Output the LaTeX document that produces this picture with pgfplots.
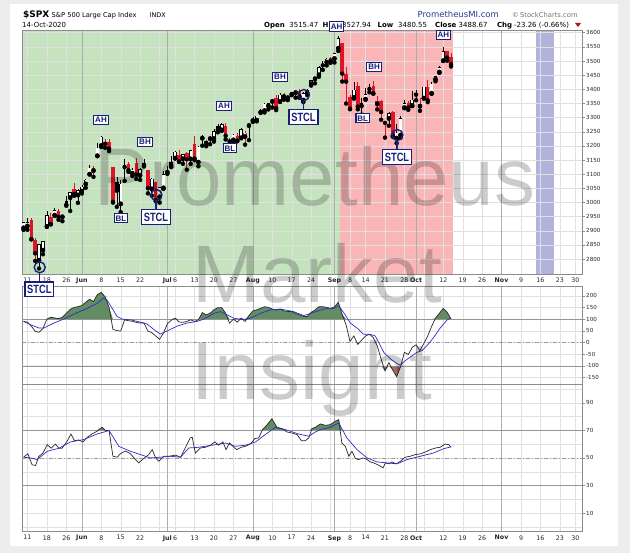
\documentclass[border=0pt]{standalone}
\usepackage{fontspec}
\setmainfont{Liberation Sans}
\newfontfamily\dv{DejaVu Sans}
\usepackage{graphicx}
\usepackage{pgfplots}
\pgfplotsset{compat=1.18}
\usepackage{pgfplotstable}

\definecolor{navy}{RGB}{25,30,120}
\definecolor{bggreen}{RGB}{198,227,192}
\definecolor{bgred}{RGB}{250,182,182}
\definecolor{bgblue}{RGB}{178,178,218}
\definecolor{candred}{RGB}{222,20,40}
\definecolor{fillgreen}{RGB}{98,140,98}
\definecolor{fillred}{RGB}{168,104,104}
\definecolor{lineblue}{RGB}{45,45,200}
\definecolor{lineblack}{RGB}{40,40,40}
\definecolor{pmblue}{RGB}{40,55,150}

% i = trading day index (0 = 11 May 2020); k: 0 up/black hollow, 1 black filled, 2 red hollow, 3 red filled
\pgfplotstableread{
i o h l c k
-1 2908.8 2932.2 2902.9 2929.8 0
0 2915.5 2944.3 2903.4 2930.2 0
1 2939.5 2945.8 2869.6 2870.1 3
2 2865.9 2874.1 2793.2 2820.0 3
3 2794.5 2852.8 2766.6 2852.5 0
4 2829.9 2865.0 2816.8 2863.7 0
5 2913.9 2968.1 2913.9 2953.9 0
6 2948.6 2964.2 2922.4 2922.9 3
7 2953.6 2980.3 2953.6 2971.6 0
8 2969.9 2978.5 2938.6 2948.5 3
9 2948.0 2956.8 2933.6 2955.5 0
10 3004.1 3021.7 2988.2 2991.8 1
11 3015.7 3036.3 2969.8 3036.1 0
12 3046.6 3068.7 3023.4 3029.7 3
13 3025.2 3049.2 2998.6 3044.3 0
14 3038.8 3062.2 3031.5 3055.7 0
15 3064.2 3081.1 3051.6 3080.8 0
16 3098.9 3130.9 3098.9 3122.9 0
17 3111.6 3128.9 3090.4 3112.4 2
18 3163.8 3211.7 3163.8 3193.9 0
19 3199.9 3233.1 3196.0 3232.4 0
20 3213.3 3222.7 3193.1 3207.2 3
21 3213.4 3223.3 3181.5 3190.1 3
22 3123.5 3123.5 2999.5 3002.1 3
23 3071.0 3088.4 2984.5 3041.3 1
24 2993.8 3079.8 2965.7 3066.6 0
25 3131.0 3153.5 3076.1 3124.7 1
26 3136.1 3141.2 3108.0 3113.5 3
27 3101.6 3120.0 3093.5 3115.3 0
28 3140.3 3155.5 3083.1 3097.7 3
29 3094.4 3120.9 3079.4 3117.9 0
30 3138.7 3154.9 3127.1 3131.3 1
31 3114.4 3115.0 3032.1 3050.3 3
32 3046.6 3086.3 3024.0 3083.8 0
33 3073.2 3073.7 3004.6 3009.1 3
34 3018.6 3053.9 2999.7 3053.2 0
35 3050.2 3111.5 3047.8 3100.3 0
36 3105.9 3128.4 3101.2 3115.9 0
37 3143.6 3165.8 3124.5 3130.0 1
38 3155.3 3182.6 3155.3 3179.7 0
39 3166.4 3184.2 3142.9 3145.3 3
40 3153.1 3171.8 3136.5 3169.9 0
41 3176.2 3179.8 3115.7 3152.1 3
42 3152.5 3186.8 3136.2 3185.0 0
43 3205.1 3235.3 3149.4 3155.2 3
44 3141.1 3200.9 3127.7 3197.5 0
45 3226.0 3238.3 3200.8 3226.6 0
46 3208.4 3220.4 3198.6 3215.6 2
47 3224.2 3233.5 3205.7 3224.7 0
48 3224.3 3258.6 3215.2 3251.8 0
49 3268.5 3277.3 3247.8 3257.3 1
50 3254.9 3279.3 3253.1 3276.0 0
51 3271.6 3279.9 3222.7 3235.7 3
52 3218.6 3227.3 3200.1 3215.6 3
53 3219.8 3241.4 3214.3 3239.4 0
54 3234.3 3243.7 3216.2 3218.4 3
55 3227.2 3264.7 3227.2 3258.4 0
56 3231.8 3250.9 3204.1 3246.2 2
57 3270.5 3272.2 3220.3 3271.1 0
58 3288.3 3302.7 3284.5 3294.6 0
59 3289.9 3306.8 3286.7 3306.5 0
60 3317.4 3330.8 3317.4 3327.8 0
61 3323.2 3351.0 3318.1 3349.2 0
62 3340.1 3352.5 3328.7 3351.3 0
63 3356.0 3363.3 3335.4 3360.5 0
64 3370.3 3381.0 3326.4 3333.7 3
65 3355.5 3387.9 3355.5 3380.4 0
66 3372.9 3387.2 3363.4 3373.4 2
67 3368.7 3378.5 3361.6 3372.9 2
68 3380.9 3387.6 3379.2 3382.0 0
69 3387.0 3395.1 3370.2 3389.8 0
70 3392.5 3399.5 3369.7 3374.9 3
71 3360.5 3390.8 3354.7 3385.5 0
72 3386.0 3400.0 3379.3 3397.2 0
73 3418.1 3432.1 3413.1 3431.3 0
74 3435.9 3444.2 3421.0 3443.6 0
75 3450.0 3481.1 3444.2 3478.7 0
76 3485.1 3501.4 3468.4 3484.6 1
77 3494.7 3509.2 3484.3 3508.0 0
78 3509.7 3514.8 3493.3 3500.3 3
79 3507.4 3528.0 3494.6 3526.7 0
80 3543.8 3588.1 3535.2 3580.8 0
81 3564.7 3564.9 3427.4 3455.1 3
82 3453.6 3479.2 3349.6 3427.0 3
83 3371.9 3380.0 3329.3 3331.8 3
84 3369.8 3424.8 3366.8 3399.0 0
85 3412.6 3425.6 3329.3 3339.2 3
86 3352.7 3369.0 3310.5 3341.0 1
87 3363.6 3402.9 3363.6 3383.5 0
88 3407.7 3419.5 3389.2 3401.2 1
89 3411.2 3428.9 3384.5 3385.5 3
90 3346.9 3375.2 3328.8 3357.0 2
91 3357.4 3362.3 3292.4 3319.5 3
92 3285.6 3285.6 3229.1 3281.1 3
93 3295.8 3320.3 3271.0 3315.6 0
94 3320.1 3323.4 3232.6 3236.9 3
95 3226.1 3278.7 3209.5 3246.6 0
96 3236.7 3306.9 3228.4 3298.5 0
97 3333.9 3360.7 3332.9 3351.6 0
98 3350.9 3357.9 3327.5 3335.5 3
99 3341.2 3393.6 3340.5 3363.0 0
100 3385.9 3397.2 3361.4 3380.8 1
101 3338.9 3369.1 3323.7 3348.4 2
102 3367.3 3409.6 3367.3 3408.6 0
103 3408.7 3431.6 3354.5 3361.0 3
104 3384.6 3426.3 3384.6 3419.4 0
105 3434.3 3447.3 3428.2 3446.8 0
106 3459.7 3482.3 3458.1 3477.1 0
107 3500.0 3549.9 3500.0 3534.2 0
108 3534.0 3534.0 3500.9 3511.9 3
109 3515.5 3527.9 3480.6 3488.7 3
}\spx

\pgfplotstableread{
i v
-1 90
0 87
1 70
2 48
3 44
4 60
5 100
6 108
7 105
8 102
9 108
10 125
11 142
12 150
13 153
14 158
15 172
16 185
17 175
18 205
19 214
20 195
21 150
22 56
23 51
24 49
25 97
26 93
27 91
28 86
29 83
30 83
31 49
32 42
33 28
34 14
35 40
36 80
37 95
38 104
39 88
40 86
41 90
42 97
43 90
44 97
45 128
46 118
47 125
48 140
49 149
50 149
51 125
52 83
53 100
54 87
55 104
56 90
57 115
58 135
59 140
60 146
61 153
62 150
63 143
64 139
65 143
66 135
67 133
68 132
69 125
70 118
71 112
72 111
73 129
74 139
75 153
76 153
77 150
78 146
79 152
80 172
81 120
82 75
83 5
84 28
85 -8
86 10
87 28
88 35
89 21
90 -14
91 -70
92 -121
93 -86
94 -118
95 -146
96 -104
97 -42
98 -51
99 -21
100 -10
101 -35
102 -4
103 28
104 69
105 104
106 125
107 146
108 129
109 101
}\ccik

\pgfplotstableread{
i v
-1 90
0.8 76
2.9 62
4.2 62
6.8 83
9.3 100
11.9 121
15.4 146
17.9 167
19.5 190
20.5 181
21.8 146
23.1 111
24.4 100
26.5 97
29.1 87
30.8 79
32.5 56
34.2 36
35.9 49
38.5 70
41 83
43.6 90
45.4 100
48 125
49.7 132
51.4 118
53.1 104
55.7 97
57.4 104
60 125
62.5 139
65.1 143
68.5 132
71.1 115
73.7 129
76.2 143
78.8 146
80.1 157
81.5 125
83.1 83
84.8 62
86.5 35
88.2 35
89.5 28
90.4 0
91.7 -42
93.4 -70
95.1 -90
96 -97
96.8 -83
98.5 -62
100.2 -42
101.5 -35
102.8 -14
104.5 21
106.2 62
108 97
109 104
}\ccib

\pgfplotstableread{
i v
-1 50.5
0.1 53
1.2 45
2.1 44.5
2.9 51
4 53.6
5.1 59.6
6.1 57
7.2 60
8.1 57
8.9 57
10.2 62
11.2 67.3
12.1 62.5
13.2 63
14.3 61.6
15.4 65
16.6 67.3
17.9 69.3
19.2 72.2
20.1 69.8
21 69.8
22 51.2
23.1 50.5
23.9 53
25.2 55
26.5 53
27.8 48.8
28.6 46.4
29.9 49.5
31.2 52.4
32.1 56
33 50
33.8 47.6
35.1 51.2
36.4 51.2
38.1 52
39.4 50.5
40.6 57.2
41.9 64.5
42.4 65
43.2 53.6
44.5 57.2
45.8 57.7
47.1 59.2
48.2 61.6
49.2 59.2
50.3 61.6
51.1 56
52 60.8
53.1 57.7
53.9 56
55 57.7
56.1 58.4
57.4 60.1
58.5 64
59.5 64.5
60.5 70.5
61.7 74.1
62.9 78.4
64.2 72.2
65.5 71.2
66.8 68.8
68.1 68
69.4 66.9
70.5 62.5
71.5 62.5
72.4 64.5
73.2 71.2
74.1 72.2
75.4 74.6
76.7 73.6
77.9 74.1
79.2 76.5
80.1 77.7
80.9 60.8
81.8 58.4
82.7 51.2
83.5 54.8
84.4 49.5
85.2 48.8
86.5 50
87.4 48.8
88.2 47.1
89.1 46.4
90 45.2
90.8 44
91.5 42.8
92.1 46.4
93 45.7
93.8 47.1
94.9 45.7
96 47.6
97.2 50.5
98.5 51.2
99.8 52.4
101.1 52.9
102.4 54.3
103.7 56
105 57.2
106.2 57.7
107.5 60.1
108.4 59.6
109 57.7
}\rsik

\pgfplotstableread{
i v
-1 50.5
0.8 50
2.5 48.8
5.1 54.8
8.1 57
11.1 61.6
14.5 63.3
17.9 67.3
21 69.8
22.2 64.5
23.5 58.4
26.5 54.8
29.1 52.4
31.6 50
34.2 50.5
36.8 51.2
39.4 50.5
41.5 57.2
44.1 57.7
48.4 59.6
51 60.8
53.5 58.4
56.1 59.2
58.7 61.6
61.2 66.9
63.8 72.2
66.4 70.5
69.8 67.3
72.4 65.7
74.1 68.8
75.4 70.5
77.9 72.2
80.1 75.3
82.2 64.5
84.8 56
87.4 50
90 47.1
92.5 46.4
95.1 45.7
97.7 48.8
101.1 51.2
104.5 53.6
107.1 56.7
109 58
}\rsib

\newcommand{\candlewick}[2]{%
\addplot[only marks, mark=none, error bars/.cd, y dir=plus, y explicit, error mark=none,
  error bar style={draw=#1, line width=0.65bp}]
  table[x=i, y=l, y error plus expr={\thisrow{h}-\thisrow{l}},
  restrict expr to domain={\thisrow{k}}{#2}] {\spx};}
\newcommand{\candlebody}[2]{%
\addplot[only marks, mark=none, error bars/.cd, y dir=plus, y explicit, error mark=none,
  error bar style={draw=#1, line width=3.5bp}]
  table[x=i, y expr={min(\thisrow{o},\thisrow{c})},
  y error plus expr={max(abs(\thisrow{c}-\thisrow{o}),2.5)},
  restrict expr to domain={\thisrow{k}}{#2}] {\spx};}
\newcommand{\candlehole}[1]{%
\addplot[only marks, mark=none, error bars/.cd, y dir=plus, y explicit, error mark=none,
  error bar style={draw=white, line width=2.3bp}]
  table[x=i, y expr={min(\thisrow{o},\thisrow{c})+2.2},
  y error plus expr={max(abs(\thisrow{c}-\thisrow{o})-4.4,0.01)},
  restrict expr to domain={\thisrow{k}}{#1}] {\spx};}

\pgfplotsset{
 panel/.style={
  scale only axis, width=560bp, xmin=-1.4, xmax=142.7,
  axis line style={draw=black!45, line width=0.5bp},
  xtick={0,5,10,14,19,24,29,36,38,43,48,53,58,63,68,73,79,83,87,92,97,100,107,112,117,122,127,132,137,141},
  minor xtick={34,78,102},
  extra x ticks={14,36,58,79,100,122},
  extra x tick labels={},
  extra x tick style={grid=major, major grid style={draw=black!32, line width=0.6bp}, tick style={draw=none}},
  grid=both,
  major grid style={draw=black!12, line width=0.4bp},
  minor grid style={draw=black!12, line width=0.4bp},
  xtick style={draw=none},
  ytick pos=right, yticklabel pos=right,
  ytick style={draw=black!45, line width=0.4bp},
  tick align=outside, major tick length=2.5bp, minor tick length=0pt,
  yticklabel style={font=\dv\fontsize{5.6}{6}\selectfont, text=black!85, inner sep=0pt, xshift=1.5bp, anchor=west},
  xticklabel style={font=\dv\fontsize{6.3}{7}\selectfont, text=black!85, inner sep=0pt, yshift=-1bp},
  /pgf/number format/assume math mode=true,
  /pgf/number format/1000 sep={},
  set layers,
 },
 datelabels/.style={
  xticklabels={11,18,26,\textbf{Jun},8,15,22,\textbf{Jul},6,13,20,27,\textbf{Aug},10,17,24,\textbf{Sep},8,14,21,28,\textbf{Oct},12,19,26,\textbf{Nov},9,16,23,30},
 },
 nolabels/.style={
  xticklabels={,,,,,,,,,,,,,,,,,,,,,,,,,,,,,},
 },
}

\tikzset{
 ann/.style={draw=navy, fill=white, line width=1.1bp, text=navy, font=\bfseries\fontsize{8}{8}\selectfont,
   inner xsep=1.4bp, inner ysep=1.7bp, text height=5.8bp, text depth=0bp},
 stcl/.style={draw=navy, fill=white, line width=1.4bp, text=navy, font=\bfseries\fontsize{12}{12}\selectfont,
   inner xsep=2.2bp, inner ysep=3bp, text height=8.6bp, text depth=0bp},
}

\begin{document}
\begin{tikzpicture}
\begin{scope}[x=1bp,y=-1bp]
 \path[use as bounding box] (0,0) rectangle (630,553);
 \fill[black!7, even odd rule] (0,0) rectangle (630,553) (10,4) rectangle (618,546);
\end{scope}

% ---------------- price panel ----------------
\begin{axis}[panel, datelabels, at={(22bp,-30bp)}, anchor=north west, height=244bp,
  ymin=2747, ymax=3609.5, ytick={2800,2850,...,3600}]
 \addplot[on layer=axis background, fill=bggreen, draw=none] coordinates {(-1.4,2747) (80.5,2747) (80.5,3609.5) (-1.4,3609.5)} -- cycle;
 \addplot[on layer=axis background, fill=bgred, draw=none] coordinates {(80.5,2747) (109.6,2747) (109.6,3609.5) (80.5,3609.5)} -- cycle;
 \addplot[on layer=axis background, fill=bgblue, draw=none] coordinates {(130.8,2747) (135.6,2747) (135.6,3609.5) (130.8,3609.5)} -- cycle;
 \candlewick{black}{-0.5:1.5}
 \candlewick{candred}{1.5:3.5}
 \candlebody{black}{-0.5:1.5}
 \candlebody{candred}{1.5:3.5}
 \candlehole{-0.5:0.5}
 \candlehole{1.5:2.5}
 \addplot[only marks, mark=o, mark size=5.5bp, mark options={draw=navy, line width=1.4bp}]
   coordinates {(3.16,2770.7) (33.19,3026.3) (71.13,3379.8) (95.19,3238.4)};
\end{axis}

% ---------------- CCI panel ----------------
\begin{axis}[panel, nolabels, at={(22bp,-286bp)}, anchor=north west, height=98bp,
  ymin=-177.3, ymax=241.5, ytick={-150,-100,...,200}]
 \addplot[fill=fillgreen, draw=none] table[x=i, y expr={max(\thisrow{v},100)}] {\ccik} -- (axis cs:109,100) -- (axis cs:-1,100) -- cycle;
 \addplot[fill=fillred, draw=none] table[x=i, y expr={min(\thisrow{v},-100)}] {\ccik} -- (axis cs:109,-100) -- (axis cs:-1,-100) -- cycle;
 \addplot[draw=black!42, line width=0.8bp] coordinates {(-1.4,100) (142.7,100)};
 \addplot[draw=black!42, line width=0.8bp] coordinates {(-1.4,-100) (142.7,-100)};
 \addplot[draw=black!40, line width=0.5bp, dash pattern=on 4bp off 2bp on 1bp off 2bp] coordinates {(-1.4,0) (142.7,0)};
 \addplot[draw=lineblack, line width=0.7bp] table[x=i, y=v] {\ccik};
 \addplot[draw=lineblue, line width=0.7bp] table[x=i, y=v] {\ccib};
\end{axis}

% ---------------- RSI panel ----------------
\begin{axis}[panel, datelabels, at={(22bp,-384bp)}, anchor=north west, height=147.7bp,
  ymin=-3.48, ymax=103.55, ytick={10,30,50,70,90}, minor ytick={0,20,40,60,80,100}]
 \addplot[fill=fillgreen, draw=none] table[x=i, y expr={max(\thisrow{v},70)}] {\rsik} -- (axis cs:109,70) -- (axis cs:-1,70) -- cycle;
 \addplot[draw=black!42, line width=0.8bp] coordinates {(-1.4,70) (142.7,70)};
 \addplot[draw=black!42, line width=0.8bp] coordinates {(-1.4,30) (142.7,30)};
 \addplot[draw=black!40, line width=0.5bp, dash pattern=on 4bp off 2bp on 1bp off 2bp] coordinates {(-1.4,50) (142.7,50)};
 \addplot[draw=lineblack, line width=0.7bp] table[x=i, y=v] {\rsik};
 \addplot[draw=lineblue, line width=0.7bp] table[x=i, y=v] {\rsib};
\end{axis}

\begin{scope}[x=1bp,y=-1bp]
 % header
 \node[anchor=base west, inner sep=0, font=\dv\bfseries\fontsize{9}{10}\selectfont] at (23,18) {\$SPX};
 \node[anchor=base west, inner sep=0, font=\dv\fontsize{6.7}{8}\selectfont] at (51.5,17.5) {S\&P 500 Large Cap Index};
 \node[anchor=base west, inner sep=0, font=\dv\fontsize{6.5}{8}\selectfont] at (149.5,17.5) {INDX};
 \node[anchor=base west, inner sep=0, font=\dv\fontsize{7}{8}\selectfont] at (22,28) {14-Oct-2020};
 \node[anchor=base west, inner sep=0, font=\dv\fontsize{8.5}{10}\selectfont, text=pmblue] at (417.5,18) {PrometheusMI.com};
 \node[anchor=base west, inner sep=0, font=\dv\fontsize{6.8}{8}\selectfont, text=black!55] at (512,18) {\textcopyright\,StockCharts.com};
 \begin{scope}[font=\dv\fontsize{7}{8}\selectfont]
  \node[anchor=base west, inner sep=0] at (264,28) {\textbf{Open}};
  \node[anchor=base west, inner sep=0] at (289.2,28) {3515.47};
  \node[anchor=base west, inner sep=0] at (322.5,28) {\textbf{Hi}};
  \node[anchor=base west, inner sep=0] at (342,28) {3527.94};
  \node[anchor=base west, inner sep=0] at (377.5,28) {\textbf{Low}};
  \node[anchor=base west, inner sep=0] at (398,28) {3480.55};
  \node[anchor=base west, inner sep=0] at (435,28) {\textbf{Close}};
  \node[anchor=base west, inner sep=0] at (458.5,28) {3488.67};
  \node[anchor=base west, inner sep=0] at (496.8,28) {\textbf{Chg}};
  \node[anchor=base west, inner sep=0] at (514,28) {-23.26 (-0.66\%)};
 \end{scope}
 \fill[candred!80!black] (575,23) -- (581,23) -- (578,27) -- cycle;

 % watermark
 \begin{scope}[font=\fontsize{82}{82}\selectfont, text=black, opacity=0.2]
  \node[anchor=base, inner sep=0] at (315,206) {Prometheus};
  \node[anchor=base, inner sep=0] at (317,302) {Market};
  \node[anchor=base, inner sep=0] at (312,399) {Insight};
 \end{scope}

 % annotations
 \draw[navy, line width=1.3bp] (39.3,272.5) -- (39.3,282);
 \draw[navy, line width=1.3bp] (156,200.5) -- (156,210);
 \draw[navy, line width=1.3bp] (303.5,100.5) -- (303.5,110);
 \draw[navy, line width=1.3bp] (397,140.5) -- (397,150);
 \node[stcl] at (39.3,289.3) {\scalebox{0.78}[1]{STCL}};
 \node[stcl] at (156,217) {\scalebox{0.78}[1]{STCL}};
 \node[stcl] at (303.5,117) {\scalebox{0.78}[1]{STCL}};
 \node[stcl] at (397,157) {\scalebox{0.78}[1]{STCL}};
 \node[ann] at (101,120) {AH};
 \node[ann] at (121,218.3) {BL};
 \node[ann] at (145,142) {BH};
 \node[ann] at (224,106) {AH};
 \node[ann] at (230,148.3) {BL};
 \node[ann] at (280,76.7) {BH};
 \node[ann] at (336.7,26.5) {AH};
 \node[ann] at (374,66.7) {BH};
 \node[ann] at (362.7,118.3) {BL};
 \node[ann] at (443.3,35) {AH};
\end{scope}
\end{tikzpicture}
\end{document}
